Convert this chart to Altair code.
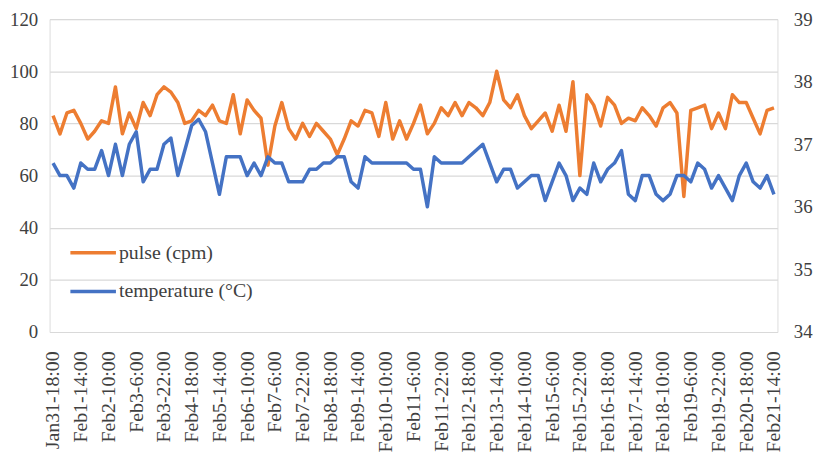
import altair as alt
import pandas as pd

# category labels: readings at 6,10,14,18,22 h each day
days = [("Jan31", [18, 22])] + [(f"Feb{d}", [6, 10, 14, 18, 22]) for d in range(1, 21)] + [("Feb21", [6, 10, 14])]
times = [f"{d}-{h}:00" for d, hs in days for h in hs]
tick_labels = times[::4]

pulse = [83, 76, 84, 85, 80, 74, 77, 81, 80, 94,
         76, 84, 78, 88, 83, 91, 94, 92, 88, 80,
         81, 85, 83, 87, 81, 80, 91, 76, 89, 85,
         82, 64, 79, 88, 78, 74, 80, 75, 80, 77,
         74, 68, 74, 81, 79, 85, 84, 75, 88, 74,
         81, 74, 80, 87, 76, 80, 86, 83, 88, 83,
         88, 86, 83, 88, 100, 89, 86, 91, 83, 78,
         81, 84, 77, 87, 77, 96, 60, 91, 87, 79,
         90, 87, 80, 82, 81, 86, 83, 79, 86, 88,
         84, 52, 85, 86, 87, 78, 84, 78, 91, 88,
         88, 82, 76, 85, 86]

temperature = [36.7, 36.5, 36.5, 36.3, 36.7, 36.6, 36.6, 36.9, 36.5, 37.0,
               36.5, 37.0, 37.2, 36.4, 36.6, 36.6, 37.0, 37.1, 36.5, 36.9,
               37.3, 37.4, 37.2, 36.7, 36.2, 36.8, 36.8, 36.8, 36.5, 36.7,
               36.5, 36.8, 36.7, 36.7, 36.4, 36.4, 36.4, 36.6, 36.6, 36.7,
               36.7, 36.8, 36.8, 36.4, 36.3, 36.8, 36.7, 36.7, 36.7, 36.7,
               36.7, 36.7, 36.6, 36.6, 36.0, 36.8, 36.7, 36.7, 36.7, 36.7,
               36.8, 36.9, 37.0, 36.7, 36.4, 36.6, 36.6, 36.3, 36.4, 36.5,
               36.5, 36.1, 36.4, 36.7, 36.5, 36.1, 36.3, 36.2, 36.7, 36.4,
               36.6, 36.7, 36.9, 36.2, 36.1, 36.5, 36.5, 36.2, 36.1, 36.2,
               36.5, 36.5, 36.4, 36.7, 36.6, 36.3, 36.5, 36.3, 36.1, 36.5,
               36.7, 36.4, 36.3, 36.5, 36.2]

series_names = ["pulse (cpm)", "temperature (°C)"]
series_colors = ["#ED7D31", "#4472C4"]

pulse_df = pd.DataFrame({"t": times, "v": pulse, "series": series_names[0]})
temp_df = pd.DataFrame({"t": times, "v": temperature, "series": series_names[1]})

FONT = "Liberation Serif"
TXT = "#404040"

x_enc = alt.X("t:O", sort=times, title=None,
              scale=alt.Scale(type="point", padding=0.5),
              axis=alt.Axis(values=tick_labels, labelAngle=-90, labelFont=FONT,
                            labelFontSize=20, labelColor=TXT, labelPadding=19,
                            ticks=False, domain=False, grid=False, labelOverlap=False))

color_enc = alt.Color("series:N", title=None,
                      scale=alt.Scale(domain=series_names, range=series_colors),
                      legend=alt.Legend(orient="none", legendX=19, legendY=211,
                                        symbolType="stroke", symbolSize=2116,
                                        symbolStrokeWidth=3.5, labelFont=FONT,
                                        labelFontSize=20, labelColor=TXT,
                                        labelOffset=1, padding=0, rowPadding=4))

pulse_line = alt.Chart(pulse_df).mark_line(strokeWidth=3.5, strokeJoin="round").encode(
    x=x_enc,
    y=alt.Y("v:Q", title=None,
            scale=alt.Scale(domain=[0, 120], nice=False),
            axis=alt.Axis(values=[0, 20, 40, 60, 80, 100, 120], orient="left",
                          labelFont=FONT, labelFontSize=19, labelColor=TXT,
                          labelPadding=12, ticks=False, domain=False,
                          grid=True, gridColor="#d9d9d9", gridWidth=1.2)),
    color=color_enc,
)

temp_line = alt.Chart(temp_df).mark_line(strokeWidth=3.5, strokeJoin="round").encode(
    x=x_enc,
    y=alt.Y("v:Q", title=None,
            scale=alt.Scale(domain=[34, 39], nice=False, zero=False),
            axis=alt.Axis(values=[34, 35, 36, 37, 38, 39], orient="right",
                          labelFont=FONT, labelFontSize=19, labelColor=TXT,
                          labelPadding=16, ticks=False, domain=False, grid=False)),
    color=color_enc,
)

chart = alt.layer(pulse_line, temp_line).resolve_scale(y="independent").properties(
    width=735, height=316,
    autosize=alt.AutoSizeParams(type="none"),
    padding={"left": 42, "top": 9, "right": 44, "bottom": 124},
).configure_view(stroke=None).configure(background="white")

chart.save("out.html", embed_options={"renderer": "svg", "actions": False})
